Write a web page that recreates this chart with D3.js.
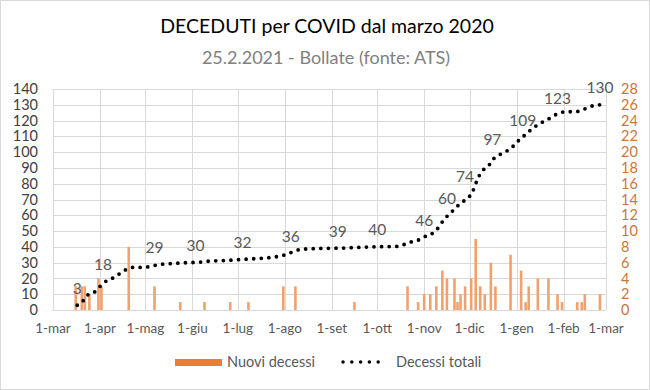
<!DOCTYPE html>
<html><head><meta charset="utf-8">
<script src="https://cdn.jsdelivr.net/npm/d3@7/dist/d3.min.js"></script>
<style>body{margin:0;background:#fff}svg{display:block;font-family:Lato,"Open Sans",sans-serif}</style>
</head><body><svg id="c" width="650" height="390"></svg>
<script>
// ---- data ----
const monthTicks = ["2020-03-01","2020-04-01","2020-05-01","2020-06-01","2020-07-01","2020-08-01","2020-09-01","2020-10-01","2020-11-01","2020-12-01","2021-01-01","2021-02-01","2021-03-01"];
const monthLabels = ["1-mar","1-apr","1-mag","1-giu","1-lug","1-ago","1-set","1-ott","1-nov","1-dic","1-gen","1-feb","1-mar"];
const leftTicks = [0,10,20,30,40,50,60,70,80,90,100,110,120,130,140];
const rightTicks = [0,2,4,6,8,10,12,14,16,18,20,22,24,26,28];

// Nuovi decessi (daily new deaths, right axis)
const barDates = ["2020-03-16","2020-03-20","2020-03-22","2020-03-25","2020-03-31","2020-04-02","2020-04-20","2020-05-07","2020-05-24","2020-06-09","2020-06-26","2020-07-08","2020-07-31","2020-08-08","2020-09-16","2020-10-21","2020-10-28","2020-11-01","2020-11-05","2020-11-09","2020-11-13","2020-11-16","2020-11-21","2020-11-23","2020-11-25","2020-11-28","2020-12-02","2020-12-05","2020-12-08","2020-12-11","2020-12-15","2020-12-18","2020-12-28","2021-01-04","2021-01-07","2021-01-09","2021-01-15","2021-01-22","2021-01-28","2021-01-31","2021-02-10","2021-02-13","2021-02-15","2021-02-25"];
const barValues = [3,3,3,2,4,3,8,3,1,1,1,1,3,3,1,3,1,2,2,3,5,4,4,1,2,3,4,9,3,2,6,3,7,5,1,3,4,4,2,1,1,1,2,2];

// Decessi totali (cumulative, left axis)
const lineDates = ["2020-03-17","2020-03-21","2020-03-23","2020-03-28","2020-03-31","2020-04-04","2020-04-09","2020-04-14","2020-04-18","2020-04-23","2020-04-28","2020-05-02","2020-05-07","2020-05-12","2020-05-20","2020-05-29","2020-06-04","2020-06-13","2020-06-23","2020-07-03","2020-07-12","2020-07-20","2020-07-28","2020-08-03","2020-08-08","2020-08-13","2020-08-24","2020-09-07","2020-09-17","2020-09-29","2020-10-15","2020-10-20","2020-10-24","2020-10-29","2020-11-03","2020-11-08","2020-11-11","2020-11-14","2020-11-18","2020-11-22","2020-11-26","2020-11-30","2020-12-03","2020-12-05","2020-12-07","2020-12-10","2020-12-14","2020-12-17","2020-12-21","2020-12-26","2020-12-30","2021-01-03","2021-01-07","2021-01-11","2021-01-15","2021-01-19","2021-01-24","2021-01-29","2021-02-03","2021-02-09","2021-02-14","2021-02-19","2021-02-25"];
const lineValues = [3,6,9,11,14,17.6,20,23,25.5,27,27,27.2,28.2,29,29.5,30,30.2,31,31.4,32,32.5,33,34,35.5,37.6,38.5,39,39.2,39.6,40,40.3,42,43.3,44.6,47.3,49.5,53,57.3,61,65,68.3,71,75,80,84.5,88.7,92,96,98.5,101,104,108,111.2,114.6,117.3,119.5,122,124.8,125.6,125.6,127,129,130];

// data labels on the cumulative line
const labelDates = ["2020-03-17","2020-04-03","2020-05-07","2020-06-03","2020-07-04","2020-08-05","2020-09-05","2020-10-01","2020-11-01","2020-11-16","2020-11-28","2020-12-16","2021-01-05","2021-01-28","2021-02-25"];
const labelValues = [3,18,29,30,32,36,39,40,46,60,74,97,109,123,130];

// ---- drawing ----
const P = d3.timeParse("%Y-%m-%d");
const svg = d3.select("#c");
const L = 53, R = 606, T = 89, B = 310;
const x = d3.scaleTime().domain([P("2020-03-01"), P("2021-03-01")]).range([L, R]);
const yL = d3.scaleLinear().domain([0,140]).range([B, T]);
const yR = d3.scaleLinear().domain([0,28]).range([B, T]);

svg.append("rect").attr("x",0.5).attr("y",0.5).attr("width",649).attr("height",389)
  .attr("fill","#fff").attr("stroke","#D9D9D9");

svg.append("text").attr("x",327).attr("y",33).attr("text-anchor","middle")
  .attr("font-size",19.5).attr("fill","#000").text("DECEDUTI per COVID dal marzo 2020");
svg.append("text").attr("x",326).attr("y",64).attr("text-anchor","middle")
  .attr("font-size",18).attr("fill","#808080").text("25.2.2021 - Bollate (fonte: ATS)");

// gridlines
const g = svg.append("g");
g.selectAll(".hg").data(leftTicks).join("line")
  .attr("x1",L).attr("x2",R).attr("y1",d=>Math.round(yL(d))+0.5).attr("y2",d=>Math.round(yL(d))+0.5)
  .attr("stroke","#D9D9D9").attr("stroke-width",1);
g.selectAll(".vg").data(monthTicks).join("line")
  .attr("y1",T).attr("y2",B).attr("x1",d=>Math.round(x(P(d)))+0.5).attr("x2",d=>Math.round(x(P(d)))+0.5)
  .attr("stroke","#D9D9D9").attr("stroke-width",1);

// axes labels
svg.append("g").selectAll("text").data(leftTicks).join("text")
  .attr("x",38).attr("y",d=>yL(d)).attr("dy","0.35em").attr("text-anchor","end")
  .attr("font-size",14.5).attr("fill","#404040").text(d=>d);
svg.append("g").selectAll("text").data(rightTicks).join("text")
  .attr("x",621).attr("y",d=>yR(d)).attr("dy","0.35em").attr("text-anchor","start")
  .attr("font-size",14.5).attr("fill","#C8773A").text(d=>d);
svg.append("g").selectAll("text").data(monthTicks).join("text")
  .attr("x",d=>x(P(d))).attr("y",328).attr("dy","0.35em").attr("text-anchor","middle")
  .attr("font-size",13.5).attr("fill","#595959").text((d,i)=>monthLabels[i]);

// bars
const bw = 2.6;
svg.append("g").selectAll("rect").data(barDates).join("rect")
  .attr("x",d=>x(P(d))-bw/2).attr("width",bw)
  .attr("y",(d,i)=>yR(barValues[i])).attr("height",(d,i)=>yR(0)-yR(barValues[i]))
  .attr("fill","#F0A26E");

// cumulative dotted line
const pts = lineDates.map((d,i)=>[P(d), lineValues[i]]);
svg.append("path").datum(pts)
  .attr("d", d3.line().x(d=>x(d[0])).y(d=>yL(d[1])).curve(d3.curveMonotoneX))
  .attr("fill","none").attr("stroke","#000").attr("stroke-width",3.8)
  .attr("stroke-linecap","round").attr("stroke-dasharray","0 7.6");

// data labels
svg.append("g").selectAll("text").data(labelDates).join("text")
  .attr("x",d=>x(P(d))).attr("y",(d,i)=>yL(labelValues[i])-17).attr("dy","0.35em")
  .attr("text-anchor","middle").attr("font-size",15.5).attr("fill","#595959")
  .text((d,i)=>labelValues[i]);

// legend
const lg = svg.append("g");
lg.append("rect").attr("x",175).attr("y",359).attr("width",47).attr("height",7).attr("fill","#ED7D31");
lg.append("text").attr("x",227).attr("y",362).attr("dy","0.35em").attr("font-size",14.5).attr("fill","#595959").text("Nuovi decessi");
lg.append("line").attr("x1",343).attr("x2",387).attr("y1",362).attr("y2",362)
  .attr("stroke","#000").attr("stroke-width",3.5).attr("stroke-linecap","round").attr("stroke-dasharray","0 8.8");
lg.append("text").attr("x",396).attr("y",362).attr("dy","0.35em").attr("font-size",14.5).attr("fill","#595959").text("Decessi totali");
</script></body></html>
